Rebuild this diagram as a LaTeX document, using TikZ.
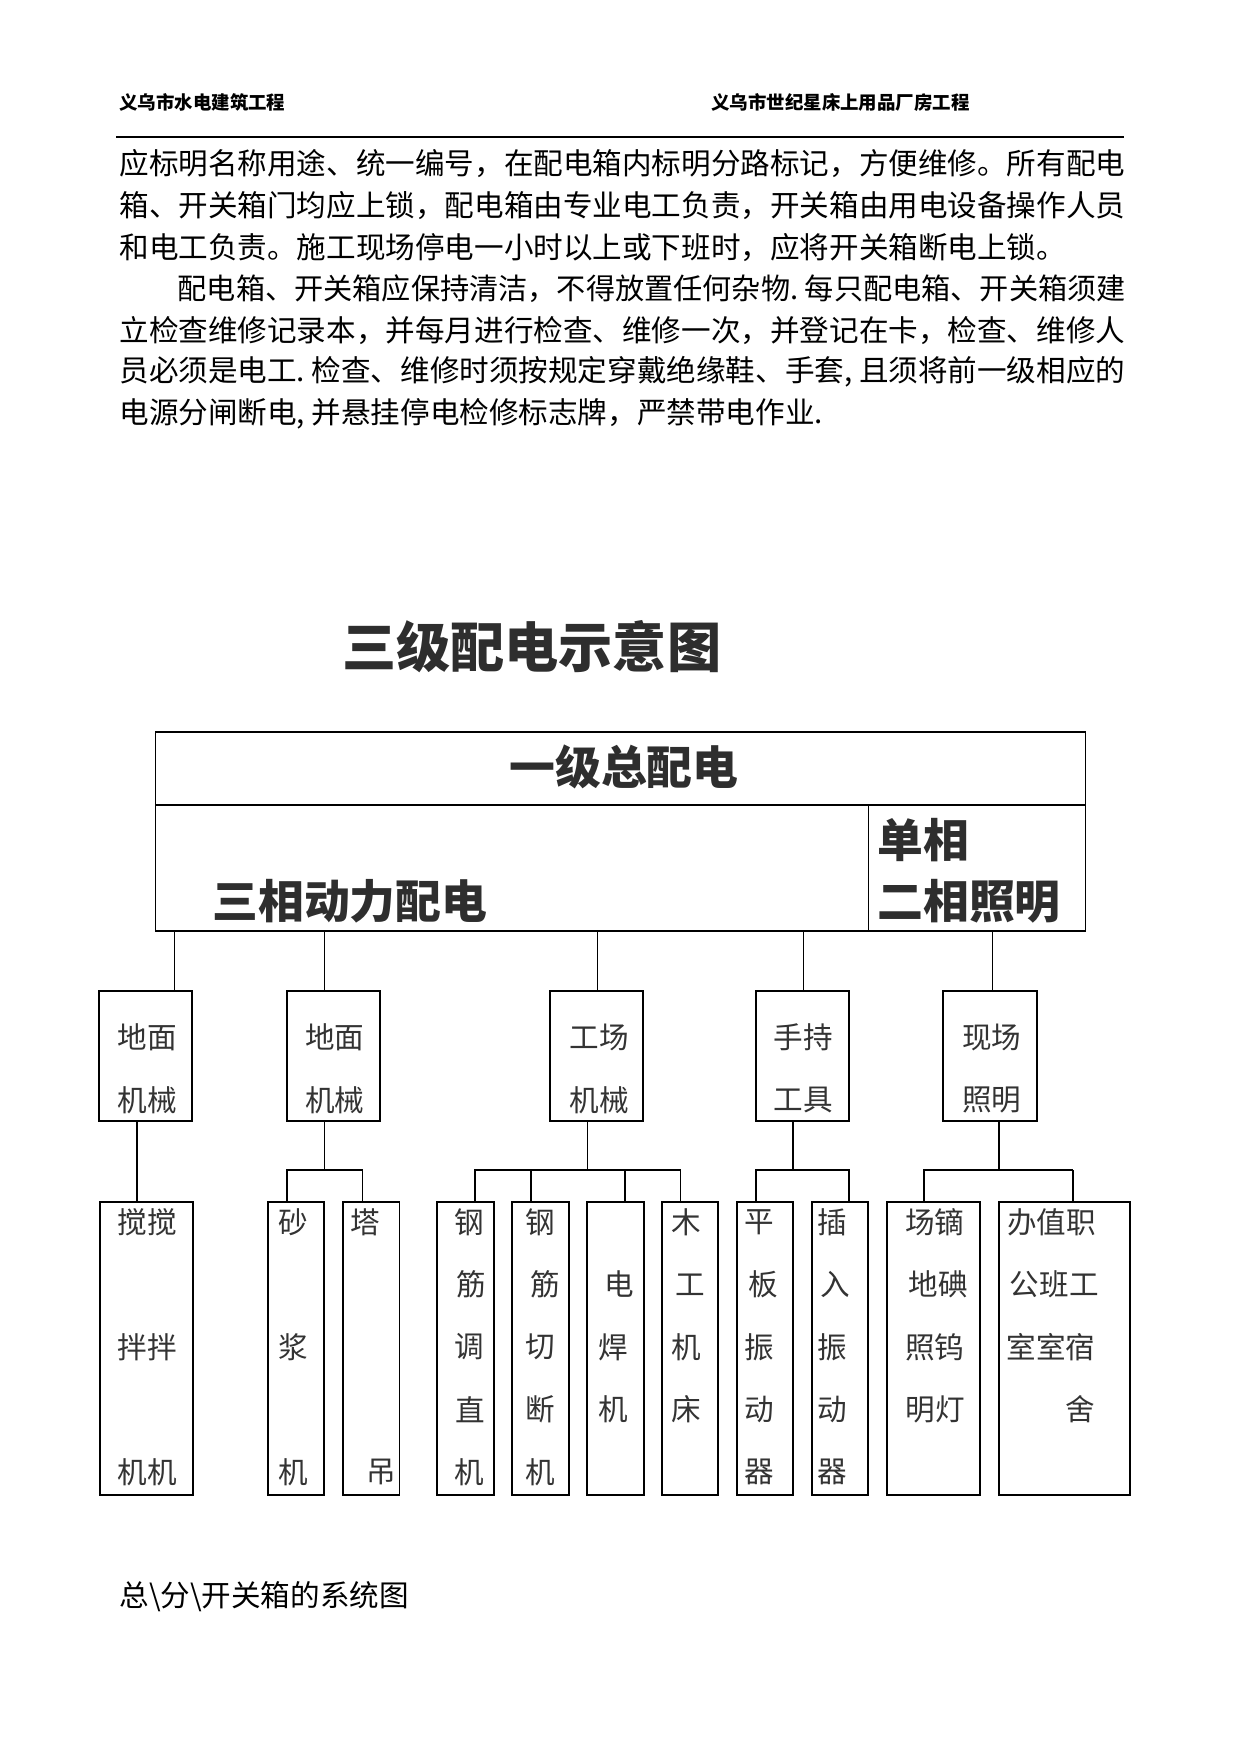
\documentclass[tikz,border=0pt]{standalone}
\usepackage{fontspec}
\setmainfont{Noto Sans CJK SC}
\usetikzlibrary{fit}
\begin{document}
\begin{tikzpicture}[x=0.48pt,y=-0.48pt,
  hdr/.style={inner sep=0pt, anchor=west, font=\fontsize{8.85}{9}\selectfont\bfseries},
  body/.style={inner sep=0pt, anchor=west, font=\fontsize{14.2}{14.2}\selectfont},
  ttl/.style={inner sep=0pt, font=\fontsize{26}{26}\selectfont\bfseries, text=black!82},
  big/.style={inner sep=0pt, font=\fontsize{22}{22}\selectfont\bfseries, text=black!82},
  bt/.style={inner sep=0pt, font=\fontsize{14.2}{14.2}\selectfont, text=black!80},
  topbox/.style={draw, line width=0.6pt, inner sep=0pt},
  bx/.style={draw, line width=0.9pt, inner sep=0pt},
  thinc/.style={line width=0.5pt},
  thickc/.style={line width=0.9pt}]
\useasboundingbox (0,0) rectangle (1241,1754);

% header
\node[hdr] (h1) at (119,102.5) {义乌市水电建筑工程};
\node[hdr] (h2) at (711,102.5) {义乌市世纪星床上用品厂房工程};
\coordinate (r1) at (116,137);
\coordinate (r2) at (1124,137);
\draw[line width=0.65pt] (r1) -- (r2);

% body text
\node[body] (p1) at (119,164) {应标明名称用途、统一编号，在配电箱内标明分路标记，方便维修。所有配电};
\node[body] (p2) at (119,206) {箱、开关箱门均应上锁，配电箱由专业电工负责，开关箱由用电设备操作人员};
\node[body] (p3) at (119,247.5) {和电工负责。施工现场停电一小时以上或下班时，应将开关箱断电上锁。};
\node[body, font=\fontsize{14}{14}\selectfont] (p4) at (119,289) {\hspace*{2em}配电箱、开关箱应保持清洁，不得放置任何杂物\makebox[.5em][l]{.}每只配电箱、开关箱须建};
\node[body] (p5) at (119,330.5) {立检查维修记录本，并每月进行检查、维修一次，并登记在卡，检查、维修人};
\node[body] (p6) at (119,372) {员必须是电工\makebox[.5em][l]{.}检查、维修时须按规定穿戴绝缘鞋、手套\makebox[.5em][l]{,}且须将前一级相应的};
\node[body] (p7) at (119,413.5) {电源分闸断电\makebox[.5em][l]{,}并悬挂停电检修标志牌，严禁带电作业.};

% title
\node[ttl] (title) at (531.7,646.7) {三级配电示意图};

% top box
\node[topbox, fit={(155.8,732)(1085.5,805)}] (lv1) {};
\node[topbox, fit={(155.8,805)(868.6,931)}] (three) {};
\node[topbox, fit={(868.6,805)(1085.5,931)}] (single) {};
\node[big] (t1) at (624,766.7) {一级总配电};
\node[big, anchor=west] (t2) at (212,901.7) {三相动力配电};
\node[big, anchor=west] (t3) at (877,840) {单相};
\node[big, anchor=west] (t4) at (877,901.7) {二相照明};

% level 2 boxes
\node[bx, fit={(99.3,991)(192.3,1121)}] (a1) {};
\node[bx, fit={(286.6,991)(379.6,1121)}] (a2) {};
\node[bx, fit={(549.7,991)(642.7,1121)}] (a3) {};
\node[bx, fit={(755.6,991)(848.6,1121)}] (a4) {};
\node[bx, fit={(943,991)(1036.6,1121)}] (a5) {};
\node[bt] (a1t) at (147.1,1037) {地面};
\node[bt] (a1b) at (147.1,1100) {机械};
\node[bt] (a2t) at (334.8,1037) {地面};
\node[bt] (a2b) at (334.8,1100) {机械};
\node[bt] (a3t) at (599,1037) {工场};
\node[bt] (a3b) at (599,1100) {机械};
\node[bt] (a4t) at (803.5,1037) {手持};
\node[bt] (a4b) at (803.5,1100) {工具};
\node[bt] (a5t) at (991.8,1037) {现场};
\node[bt] (a5b) at (991.8,1100) {照明};

% connectors level 1 -> level 2
\coordinate (k1) at (174.4,0);
\coordinate (k2) at (324.5,0);
\coordinate (k3) at (597.9,0);
\coordinate (k4) at (803.8,0);
\coordinate (k5) at (992.5,0);
\draw[thinc] (three.south -| k1) -- (a1.north -| k1);
\draw[thinc] (three.south -| k2) -- (a2.north -| k2);
\draw[thinc] (three.south -| k3) -- (a3.north -| k3);
\draw[thinc] (three.south -| k4) -- (a4.north -| k4);
\draw[thinc] (single.south -| k5) -- (a5.north -| k5);

% level 3 boxes
\node[bx, fit={(100,1202)(193.4,1495)}] (jb) {};
\node[bx, fit={(268,1202)(324.4,1495)}] (sj) {};
\node[bx, fit={(343,1202)(399.5,1495)}] (td) {};
\node[bx, fit={(437,1202)(494,1495)}] (g1) {};
\node[bx, fit={(512,1202)(569,1495)}] (g2) {};
\node[bx, fit={(587,1202)(644,1495)}] (dh) {};
\node[bx, fit={(661.7,1202)(718.3,1495)}] (mg) {};
\node[bx, fit={(736.7,1202)(793,1495)}] (pb) {};
\node[bx, fit={(811.7,1202)(868,1495)}] (cr) {};
\node[bx, fit={(886.7,1202)(980.3,1495)}] (zm) {};
\node[bx, fit={(999.3,1202)(1130,1495)}] (bg) {};

% connectors level 2 -> level 3
\coordinate (m1) at (137,0);
\draw[thickc] (a1.south -| m1) -- (jb.north -| m1);

\coordinate (bar2) at (324.5,1170);
\coordinate (d21) at (287,0);
\coordinate (d22) at (362.5,0);
\draw[thinc] (a2.south -| bar2) -- (bar2);
\draw[thickc] (sj.north -| d21) -- (d21 |- bar2) -- (d22 |- bar2) -- (td.north -| d22);

\coordinate (bar3) at (587.5,1170);
\coordinate (d31) at (475,0);
\coordinate (d32) at (531,0);
\coordinate (d33) at (625,0);
\coordinate (d34) at (680.5,0);
\draw[thickc] (a3.south -| bar3) -- (bar3);
\draw[thickc] (g1.north -| d31) -- (d31 |- bar3) -- (d34 |- bar3) -- (mg.north -| d34);
\draw[thinc] (d32 |- bar3) -- (g2.north -| d32);
\draw[thinc] (d33 |- bar3) -- (dh.north -| d33);

\coordinate (bar4) at (792.7,1170);
\coordinate (d41) at (755.7,0);
\coordinate (d42) at (849.3,0);
\draw[thickc] (a4.south -| bar4) -- (bar4);
\draw[thickc] (pb.north -| d41) -- (d41 |- bar4) -- (d42 |- bar4) -- (cr.north -| d42);

\coordinate (bar5) at (999,1170);
\coordinate (d51) at (924.3,0);
\coordinate (d52) at (1073,0);
\draw[thinc] (a5.south -| bar5) -- (bar5);
\draw[thickc] (zm.north -| d51) -- (d51 |- bar5) -- (d52 |- bar5);
\draw[thinc] (d52 |- bar5) -- (bg.north -| d52);

% level 3 texts (rows 1222,1284.5,1347,1409.5,1472)
\node[bt] (jb1) at (147,1222) {搅搅};
\node[bt] (jb3) at (147,1347) {拌拌};
\node[bt] (jb5) at (147,1472) {机机};
\node[bt] (sj1) at (293,1222) {砂};
\node[bt] (sj3) at (293,1347) {浆};
\node[bt] (sj5) at (293,1472) {机};
\node[bt] (td1) at (365.7,1222) {塔};
\node[bt] (td5) at (381,1472) {吊};
\node[bt] (g11) at (469,1222) {钢};
\node[bt] (g12) at (471,1284.5) {筋};
\node[bt] (g13) at (469,1347) {调};
\node[bt] (g14) at (470,1409.5) {直};
\node[bt] (g15) at (469,1472) {机};
\node[bt] (g21) at (540.5,1222) {钢};
\node[bt] (g22) at (545,1284.5) {筋};
\node[bt] (g23) at (540.5,1347) {切};
\node[bt] (g24) at (540.5,1409.5) {断};
\node[bt] (g25) at (540.5,1472) {机};
\node[bt] (dh2) at (619,1284.5) {电};
\node[bt] (dh3) at (613.6,1347) {焊};
\node[bt] (dh4) at (613.6,1409.5) {机};
\node[bt] (mg1) at (686,1222) {木};
\node[bt] (mg2) at (690,1284.5) {工};
\node[bt] (mg3) at (686,1347) {机};
\node[bt] (mg4) at (686,1409.5) {床};
\node[bt] (pb1) at (759.7,1222) {平};
\node[bt] (pb2) at (763,1284.5) {板};
\node[bt] (pb3) at (759.7,1347) {振};
\node[bt] (pb4) at (759.7,1409.5) {动};
\node[bt] (pb5) at (759.7,1472) {器};
\node[bt] (cr1) at (832.7,1222) {插};
\node[bt] (cr2) at (835,1284.5) {入};
\node[bt] (cr3) at (832.7,1347) {振};
\node[bt] (cr4) at (832.7,1409.5) {动};
\node[bt] (cr5) at (832.7,1472) {器};
\node[bt] (zm1) at (934.7,1222) {场镝};
\node[bt] (zm2) at (938,1284.5) {地碘};
\node[bt] (zm3) at (934.7,1347) {照钨};
\node[bt] (zm4) at (935.5,1409.5) {明灯};
\node[bt] (bg1) at (1051.7,1222) {办值职};
\node[bt] (bg2) at (1054.3,1284.5) {公班工};
\node[bt] (bg3) at (1051,1347) {室室宿};
\node[bt] (bg4) at (1080.5,1409.5) {舍};

% caption
\node[body] (cap) at (119,1596.7) {总\textbackslash 分\textbackslash 开关箱的系统图};
\end{tikzpicture}
\end{document}
